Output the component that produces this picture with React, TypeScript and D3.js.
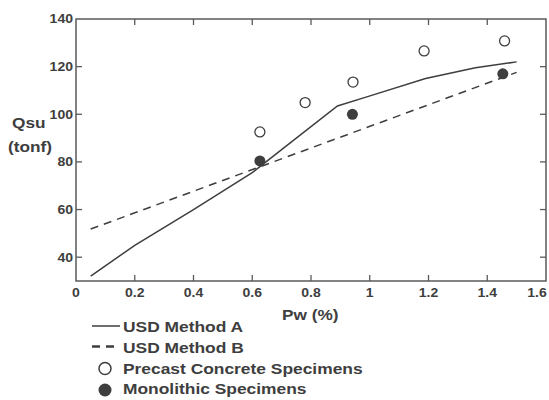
import * as React from "react";
import * as d3 from "d3";

// USD Method A (solid)
const methodAPw = [0.05, 0.2, 0.4, 0.6, 0.89, 0.99, 1.19, 1.36, 1.5];
const methodAQ = [32, 45, 60, 75.5, 103.5, 107.3, 115, 119.5, 122];
// USD Method B (dashed)
const methodBPw = [0.05, 0.66, 1.5];
const methodBQ = [51.8, 79.5, 117.6];
// test specimens
const precastPw = [0.626, 0.78, 0.943, 1.185, 1.459];
const precastQ = [92.6, 104.9, 113.5, 126.6, 130.8];
const monoPw = [0.626, 0.941, 1.453];
const monoQ = [80.4, 100, 117];

const xTicks = [0, 0.2, 0.4, 0.6, 0.8, 1, 1.2, 1.4, 1.6];
const yTicks = [40, 60, 80, 100, 120, 140];
const legendLabels = ["USD Method A", "USD Method B", "Precast Concrete Specimens", "Monolithic Specimens"];

const W = 549;
const H = 400;
const ink = "#3e3e3e";
const axisInk = "#5a5a5a";
const font = "'Liberation Sans', Arial, sans-serif";

export default function App() {
  const x = d3.scaleLinear().domain([0, 1.6]).range([76, 546]);
  const y = d3.scaleLinear().domain([30, 140]).range([281, 19]);
  const [x0, x1] = x.range();
  const [y0, y1] = y.range();

  const lineOf = d3.line<[number, number]>().x(d => x(d[0])).y(d => y(d[1]));
  const pathA = lineOf(methodAPw.map((p, i) => [p, methodAQ[i]] as [number, number]));
  const pathB = lineOf(methodBPw.map((p, i) => [p, methodBQ[i]] as [number, number]));

  const tickLabel = (v: number) => (v === 0 ? "0" : d3.format("~g")(v));
  const innerX = xTicks.filter(t => t > 0 && t < 1.6);
  const innerY = yTicks.filter(t => t < 140);

  return (
    <svg width={W} height={H} style={{ position: "absolute", left: 0, top: 0, background: "#fff" }} fontFamily={font} fontWeight="bold">
      {/* frame */}
      <rect x={x0} y={y1} width={x1 - x0} height={y0 - y1} fill="none" stroke={axisInk} strokeWidth={1.5} />
      {innerX.map(t => (
        <g key={"xt" + t}>
          <line x1={x(t)} x2={x(t)} y1={y0} y2={y0 - 6} stroke={axisInk} strokeWidth={1.3} />
          <line x1={x(t)} x2={x(t)} y1={y1} y2={y1 + 6} stroke={axisInk} strokeWidth={1.3} />
        </g>
      ))}
      {innerY.map(t => (
        <g key={"yt" + t}>
          <line x1={x0} x2={x0 + 6} y1={y(t)} y2={y(t)} stroke={axisInk} strokeWidth={1.3} />
          <line x1={x1} x2={x1 - 6} y1={y(t)} y2={y(t)} stroke={axisInk} strokeWidth={1.3} />
        </g>
      ))}
      {xTicks.map(t => {
        // last label would run off the right edge, so pull it in a little
        const tx = Math.min(x(t), W - 12);
        return (
          <text key={"xl" + t} transform={`translate(${tx},297) scale(1.17,1)`} textAnchor="middle" fontSize={12} fill={ink}>
            {tickLabel(t)}
          </text>
        );
      })}
      {yTicks.map(t => (
        <text key={"yl" + t} transform={`translate(73,${y(t)}) scale(1.17,1)`} textAnchor="end" dy="0.36em" fontSize={12} fill={ink}>
          {tickLabel(t)}
        </text>
      ))}

      {/* axis titles */}
      <text transform="translate(12,128) scale(1.15,1)" fontSize={15} fill={ink}>Qsu</text>
      <text transform="translate(8,152) scale(1.15,1)" fontSize={15} fill={ink}>(tonf)</text>
      <text transform="translate(282,320) scale(1.15,1)" fontSize={15} fill={ink}>Pw (%)</text>

      {/* series */}
      <path d={pathA ?? ""} fill="none" stroke={ink} strokeWidth={1.5} />
      <path d={pathB ?? ""} fill="none" stroke={ink} strokeWidth={1.5} strokeDasharray="8,6" />
      {precastPw.map((p, i) => (
        <circle key={"p" + i} cx={x(p)} cy={y(precastQ[i])} r={5} fill="#fff" stroke={ink} strokeWidth={1.3} />
      ))}
      {monoPw.map((p, i) => (
        <circle key={"m" + i} cx={x(p)} cy={y(monoQ[i])} r={5.5} fill={ink} />
      ))}

      {/* legend */}
      {legendLabels.map((lab, i) => {
        const by = [332, 352.5, 373.5, 394][i];
        const cy = by - 6;
        return (
          <g key={lab}>
            {i === 0 && <line x1={92} x2={120} y1={cy} y2={cy} stroke={ink} strokeWidth={1.5} />}
            {i === 1 && <line x1={92} x2={120} y1={cy} y2={cy} stroke={ink} strokeWidth={2.5} strokeDasharray="8,6" />}
            {i === 2 && <circle cx={105} cy={cy + 1} r={6} fill="#fff" stroke={ink} strokeWidth={1.5} />}
            {i === 3 && <circle cx={105} cy={cy + 2} r={6.5} fill={ink} />}
            <text transform={`translate(123,${by}) scale(1.2,1)`} fontSize={14.5} fill={ink}>{lab}</text>
          </g>
        );
      })}
    </svg>
  );
}
